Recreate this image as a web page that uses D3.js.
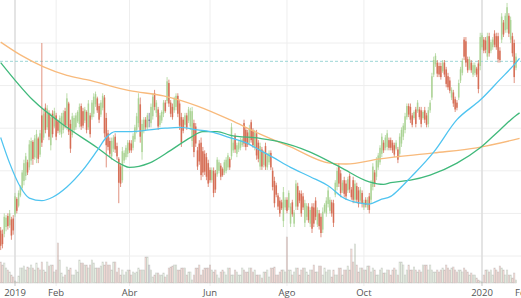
<!DOCTYPE html>
<html>
<head>
<meta charset="utf-8">
<script src="https://cdn.jsdelivr.net/npm/d3@7"></script>
<style>
  body { margin: 0; background: #fff; }
  svg { display: block; font-family: "Open Sans", sans-serif; }
</style>
</head>
<body>
<svg id="chart"></svg>
<script>
var width = 521, height = 298;

// daily OHLC, one entry per weekday starting 2018-12-20
var opens = [13.0,12.6,12.6,13.4,14.7,13.6,14.3,14.4,14.9,16.7,15.9,17.1,18.0,18.8,19.4,21.0,20.4,21.2,23.4,21.6,
  21.5,23.8,21.9,26.5,23.9,27.4,25.1,26.8,23.0,26.7,25.2,26.5,25.8,24.5,24.3,24.8,27.0,25.3,27.9,25.5,
  24.2,24.8,25.1,25.8,25.5,27.6,27.0,25.9,26.9,25.1,26.5,26.3,26.7,27.8,28.5,27.6,26.6,27.4,28.6,26.2,
  24.4,23.5,21.7,22.6,24.0,22.9,21.4,20.5,18.9,21.2,21.6,22.0,23.3,23.2,22.7,23.7,24.8,25.6,27.8,22.2,
  24.8,26.0,25.1,26.0,25.6,26.4,29.1,26.8,27.2,25.4,25.9,26.7,28.0,28.2,30.3,28.0,27.5,27.1,27.5,28.8,
  27.9,26.3,26.0,25.4,26.5,25.9,25.2,23.5,25.6,25.2,22.4,23.2,23.3,22.3,22.0,21.6,20.9,20.1,18.9,20.0,
  19.7,19.6,20.0,20.6,20.2,19.8,20.0,20.4,21.4,21.7,22.4,24.1,22.0,22.5,22.7,23.0,25.6,24.8,24.5,23.3,
  25.7,24.7,22.8,24.4,23.3,20.5,22.5,20.7,22.9,20.4,21.0,22.1,20.0,18.8,18.3,17.1,16.5,16.3,14.1,15.7,
  16.6,15.7,13.8,16.3,13.8,15.8,18.2,17.4,17.3,17.0,13.9,14.6,15.8,13.8,15.8,15.7,16.5,13.7,15.0,14.6,
  13.1,15.2,15.0,16.1,15.3,16.3,16.2,17.2,18.1,20.5,19.7,17.7,18.9,18.5,17.7,19.4,17.8,18.9,16.6,18.2,
  17.7,16.5,17.4,15.7,16.6,15.7,17.0,16.6,18.1,19.8,19.3,20.4,21.0,22.0,23.3,22.7,22.8,23.6,23.6,23.3,
  23.0,22.6,22.5,22.0,23.2,24.0,24.8,26.3,27.6,27.5,26.5,26.2,27.2,27.0,27.2,27.1,26.2,27.1,26.5,25.5,
  27.1,28.6,31.3,32.5,32.7,32.3,32.3,31.7,32.7,31.9,31.1,30.6,28.6,29.2,28.4,28.0,28.6,30.6,31.5,35.4,
  35.2,33.1,32.0,32.7,31.3,31.5,32.0,32.6,32.3,34.5,35.4,35.3,33.4,35.8,34.1,34.5,36.1,35.8,35.8,34.1,
  35.4,37.4,36.5,36.6,38.2,35.4,35.8,35.0,32.1];
var highs = [13.4,13.1,15.0,14.8,15.0,15.4,14.6,14.8,17.4,16.9,17.7,18.3,20.1,21.3,22.1,21.3,23.6,23.9,23.6,24.2,
  24.8,24.0,24.8,35.0,27.1,27.9,27.7,27.1,26.8,27.1,27.4,26.8,26.0,26.5,26.8,27.1,27.4,29.1,28.1,26.0,
  26.8,26.5,26.8,27.1,27.9,27.9,27.4,27.5,27.1,28.3,26.8,28.3,29.1,29.3,28.7,27.9,28.3,29.1,28.9,26.8,
  24.8,23.9,23.9,24.2,24.4,23.3,21.6,20.9,22.8,22.4,23.0,23.6,23.6,23.6,24.4,25.4,26.8,29.1,28.6,26.0,
  26.3,26.3,26.8,26.8,27.9,29.1,29.5,28.3,27.5,26.8,27.1,28.3,28.3,31.0,30.7,28.3,27.9,28.7,29.1,29.1,
  28.3,26.8,26.3,26.8,26.8,27.5,27.4,27.5,26.0,25.6,22.8,23.6,23.9,22.8,22.4,22.1,21.3,20.4,20.4,20.4,
  20.1,21.6,21.3,20.9,20.4,21.3,21.6,22.1,21.6,25.6,23.6,24.4,23.3,23.6,23.9,23.9,26.0,25.1,24.8,25.4,
  26.0,25.0,24.8,24.8,23.6,23.3,22.8,22.4,23.3,22.1,22.4,22.4,20.4,19.3,18.6,17.4,16.9,16.6,18.1,16.9,
  16.9,17.7,16.2,16.6,15.4,18.9,18.6,17.7,17.7,17.4,16.6,16.2,16.2,15.7,16.2,16.2,16.9,15.7,15.4,15.0,
  15.7,16.2,16.9,18.1,16.9,16.6,16.6,18.9,20.4,20.9,20.1,18.9,19.3,18.9,19.3,19.7,18.1,19.3,18.9,18.6,
  18.1,18.1,17.7,16.6,16.9,16.9,17.4,18.9,20.9,20.1,21.6,22.1,23.0,24.4,23.6,24.2,24.8,23.9,23.9,23.6,
  23.3,23.6,22.8,24.4,25.1,25.6,26.8,27.9,27.9,27.9,26.8,27.1,27.5,28.3,27.5,27.5,27.1,27.5,26.8,27.5,
  28.3,31.5,33.4,33.8,33.0,32.7,32.7,33.0,33.0,32.2,31.5,31.0,29.8,29.5,28.7,28.3,30.7,32.2,33.2,35.7,
  35.7,33.4,33.4,33.0,32.7,32.7,32.2,33.0,36.2,36.2,35.7,35.7,36.2,36.2,35.4,35.7,36.5,36.2,36.2,34.5,
  38.5,37.7,38.5,39.7,38.5,38.1,36.2,35.4,33.8];
var lows = [10.7,10.9,12.2,12.9,13.1,13.3,11.9,12.5,14.6,15.0,15.7,16.9,17.7,18.3,18.9,19.5,20.1,20.7,20.7,21.3,
  20.9,20.9,21.6,22.8,23.6,24.4,24.8,23.6,22.4,23.9,25.0,23.6,24.4,24.2,23.9,24.4,25.0,24.8,24.2,22.1,
  23.9,24.5,24.8,25.6,25.1,24.8,25.0,25.6,24.4,24.8,23.9,26.0,26.3,27.5,26.8,25.6,26.3,27.1,23.9,20.4,
  22.4,21.6,21.3,22.2,22.1,21.3,16.2,18.1,18.6,20.9,21.3,21.6,22.1,22.1,22.4,23.4,24.4,25.1,23.3,21.3,
  24.4,24.8,24.8,25.1,25.1,26.0,27.1,26.3,24.8,25.1,25.6,26.3,26.8,27.9,27.5,26.3,26.0,26.8,27.1,26.3,
  24.8,22.8,24.4,25.1,24.8,25.6,24.8,22.8,21.6,22.8,20.1,20.7,18.9,19.3,19.5,18.9,18.1,18.6,18.6,16.9,
  17.4,19.3,19.7,18.9,19.3,19.5,19.7,20.1,20.1,21.3,22.1,22.1,21.6,22.2,22.4,22.8,22.8,22.4,22.8,23.0,
  23.3,22.7,22.4,21.3,21.0,20.1,20.1,20.4,20.1,20.1,20.7,20.1,17.7,15.7,16.9,15.4,14.6,15.4,13.4,15.4,
  15.0,15.4,13.4,14.6,13.4,15.4,15.4,16.2,14.6,15.4,13.4,14.2,13.9,13.4,12.7,13.4,14.2,13.4,13.1,12.2,
  12.7,15.0,14.6,15.7,15.0,14.6,13.4,16.9,17.7,18.1,16.9,17.4,16.9,16.6,17.4,17.4,16.6,16.2,16.2,16.2,
  15.7,16.2,15.7,15.4,15.7,15.4,15.0,16.2,17.7,18.1,18.9,20.1,20.7,21.6,22.1,22.4,22.4,22.4,22.4,22.1,
  21.6,22.4,20.9,21.6,22.8,23.6,24.4,26.0,26.3,25.6,25.1,26.0,25.1,26.8,26.0,25.1,26.0,25.6,25.1,25.1,
  26.8,28.3,31.0,32.2,31.0,31.0,30.7,31.5,31.0,29.8,29.5,29.1,28.3,27.5,26.9,27.1,28.3,30.3,31.2,33.0,
  32.2,31.5,31.8,31.5,31.0,31.2,31.0,29.1,31.8,34.2,33.8,33.8,33.0,33.4,33.8,34.2,34.5,34.2,32.7,32.7,
  35.0,35.7,36.2,36.2,35.7,35.0,33.4,30.3,31.8];
var closes = [11.2,11.4,14.6,14.5,13.5,15.0,12.4,13.0,17.0,15.3,17.4,18.1,19.8,20.9,21.7,19.8,23.1,23.5,21.4,23.8,
  24.3,21.4,24.4,23.3,26.7,24.8,27.3,24.0,26.3,24.3,27.0,24.0,24.7,26.2,26.4,26.8,25.3,28.5,24.6,22.6,
  26.4,26.2,26.5,26.9,27.5,25.2,25.3,27.2,24.8,27.9,24.3,28.0,28.7,29.0,27.1,26.0,28.0,28.8,24.4,23.0,
  22.8,22.0,23.5,23.9,22.5,21.7,18.6,18.5,22.3,22.1,22.7,23.3,22.4,22.4,24.1,25.1,26.4,28.5,24.0,25.5,
  26.0,25.1,26.5,26.0,27.5,28.7,27.5,28.0,25.2,26.5,26.9,28.0,27.0,30.5,27.9,26.7,26.3,28.4,28.8,26.7,
  25.3,23.3,24.7,26.5,25.1,27.2,27.0,27.0,22.2,23.2,20.5,21.1,19.5,19.8,19.9,19.3,18.5,18.9,20.1,17.4,
  17.8,21.3,21.0,19.3,19.5,21.0,21.3,21.8,20.4,25.1,23.3,22.5,23.0,23.3,23.6,23.7,23.2,22.8,23.1,25.0,
  23.6,23.0,24.5,21.8,21.4,22.9,20.5,22.1,20.5,21.8,22.1,20.4,18.1,16.2,17.2,15.8,15.0,15.6,17.5,16.6,
  15.3,17.4,15.8,14.9,15.1,18.5,15.8,16.5,15.0,15.7,16.2,15.9,14.2,15.4,13.2,13.8,14.6,15.4,13.5,12.7,
  15.2,16.0,16.5,17.7,16.6,15.0,13.9,18.6,20.0,18.5,17.4,18.6,17.3,17.0,19.0,17.8,16.9,16.6,18.5,16.6,
  16.1,17.8,16.1,16.3,16.0,16.6,15.4,18.5,20.5,18.5,21.2,21.8,22.7,24.0,22.4,23.9,24.4,22.7,22.7,22.4,
  21.9,23.3,21.3,24.0,24.8,25.3,26.4,27.6,26.6,26.0,25.4,26.9,25.5,28.0,26.3,25.5,26.9,26.0,25.4,27.1,
  28.0,31.1,33.0,33.5,31.4,31.3,31.0,32.7,31.3,30.2,29.8,29.4,29.5,27.9,27.2,27.4,30.3,31.9,32.9,33.4,
  32.7,31.8,33.1,31.8,32.4,32.4,31.3,29.6,35.7,35.9,34.1,34.2,35.8,33.8,35.1,35.4,34.8,34.5,33.1,33.0,
  38.1,36.0,38.2,39.2,36.1,37.7,33.8,31.0,33.4];
// volume in millions
var volumes = [10.5,9,10,7.5,6.5,5.5,4,3,1,0.5, 3.5,7.5,7.5,8.5,6.5,8,7.5,9,7.5,6.5,
  10,7.5,6.5,10.5,6.5,5.5,10.5,8.5,9,9, 5.5,6.5,20,11.5,5,3,4,8,6.5,7.5,
  4,4,6.5,5.5,11.5,10,10,9,9,7.5, 9,11.5,10,7.5,7.5,7.5,8.5,10.5,9,10.5,
  9,9,6.5,10.5,10.5,5.5,7.5,4,6.5,4, 5.5,6.5,6.5,4,5.5,5,5.5,7.5,6.5,6.5,
  6.5,13,13,9,6.5,3,4,5,5,4, 4,5,3,4,7.5,8,8.5,9,9,6.5,
  6.5,7.5,7.5,7.5,4,5.5,5.5,1.5,4,7.5, 7.5,9,4,6.5,7.5,7.5,7.5,9,6.5,5.5,
  6.5,4,2.5,5.5,6.5,5.5,4,7.5,7.5,4, 4,6.5,5.5,4,4,7.5,6.5,5.5,5.5,7.5,
  7.5,5.5,6.5,4,4,4,2.5,5.5,5.5,6.5, 3,7.5,7.5,8,4,4,5.5,6.5,6.5,5.5,
  23,6.5,6.5,4,5.5,7.5,7.5,4,6.5,7.5, 7.5,5.5,4,6.5,6.5,9,5.5,5.5,8.5,8.5,
  4,7.5,5.5,6.5,6.5,3,6.5,4,4,7.5, 7.5,4,6.5,6.5,8.5,6.5,17,10.5,19.5,9,
  5.5,7.5,7.5,6.5,6.5,8.5,8.5,5.5,7.5,6.5, 4,4,6.5,7.5,5,5,6.5,6.5,4,6.5,
  7.5,6.5,4,10.5,10.5,9,4,6.5,9,6.5, 6.5,8,6.5,5.5,6.5,5.5,9,9,9,6.5,
  9,6.5,5.5,5.5,6.5,5.5,6.5,7.5,6.5,9, 7.5,6.5,7.5,8,6.5,5.5,6.5,6.5,5.5,7.5,
  6.5,5.5,4,5,4,4,2.5,1.5,1,0.5, 4,6.5,6.5,5.5,6.5,4,7.5,6.5,5.5,8.5,
  7.5,6.5,4,6.5,4,4,2.5,5,1.5];

// moving averages, sampled as [day index, value]
var ma20 = [[0,23.9],[5,20.9],[11,18.1],[16,16.8],[23,16.5],[29,16.9],[37,18.1],[46,20.1],[54,22.4],[59,23.9],
  [64,24.6],[72,24.6],[83,24.8],[92,25.0],[100,25.1],[110,24.8],[117,24.6],[128,23.9],[137,23.3],[145,22.4],
  [152,21.6],[162,20.4],[173,19.3],[184,18.1],[191,16.9],[201,16.2],[206,16.1],[212,16.6],[218,17.0],[223,17.9],
  [229,19.2],[242,22.2],[255,26.0],[268,28.3],[279,30.7],[288,32.7],[290,33.2]];
var ma50 = [[0,32.7],[18,28.3],[37,25.1],[54,22.7],[63,21.3],[68,20.7],[72,20.4],[83,20.9],[95,22.4],[106,23.9],
  [113,24.6],[121,24.6],[128,24.2],[145,23.8],[156,23.4],[173,22.2],[190,20.4],[206,18.7],[214,18.4],[218,18.6],
  [229,18.9],[240,19.5],[255,20.9],[268,22.7],[279,24.8],[288,26.5],[290,26.8]];
var ma200 = [[0,35.1],[11,33.6],[24,32.2],[37,31.2],[48,30.7],[72,29.4],[91,28.8],[110,27.6],[128,26.0],[145,24.3],
  [162,22.8],[184,20.9],[193,20.8],[212,21.4],[242,22.1],[266,22.7],[290,23.8]];

var refPrice = 32.85;
var priceGrid = [10, 15, 20, 25, 30, 35];
var tickDates = ["2019-01-01", "2019-02-01", "2019-04-01", "2019-06-01", "2019-08-01", "2019-10-01", "2020-01-01", "2020-02-01"];
var tickLabels = ["2019", "Feb", "Abr", "Jun", "Ago", "Oct", "2020", "Feb"];

var upColor = "#a3cf8b", downColor = "#d4664c", flatColor = "#5b5e7a";
var svg = d3.select("#chart").attr("width", width).attr("height", height);

// weekday calendar
var parse = d3.timeParse("%Y-%m-%d");
var days = d3.timeDay.range(parse("2018-12-20"), parse("2020-02-15"))
  .filter(function (d) { return d.getDay() % 6 !== 0; });
function dayIndex(s) { return d3.bisectLeft(days, parse(s)); }

var x = d3.scaleLinear()
  .domain([dayIndex("2019-01-01"), dayIndex("2020-01-01")])
  .range([15, 482]);
var y = d3.scaleLinear().domain([10, 35]).range([256, 43]);
var vy = d3.scaleLinear().domain([0, 25]).range([283, 233]);

var candles = opens.map(function (o, i) {
  return {i: i, o: o, h: highs[i], l: lows[i], c: closes[i], v: volumes[i]};
});
function colorOf(d) {
  return d.c > d.o ? upColor : (d.c < d.o ? downColor : flatColor);
}

// grid
svg.append("g")
  .selectAll("line")
  .data(priceGrid)
  .enter().append("line")
  .attr("x1", 0).attr("x2", width)
  .attr("y1", function (d) { return y(d); })
  .attr("y2", function (d) { return y(d); })
  .attr("stroke", "#eeeeee")
  .attr("stroke-width", 1);

var ticks = tickDates.map(function (s, k) {
  return {i: dayIndex(s), label: tickLabels[k], year: s.slice(5) === "01-01"};
});

svg.append("g")
  .selectAll("line")
  .data(ticks)
  .enter().append("line")
  .attr("x1", function (d) { return x(d.i); })
  .attr("x2", function (d) { return x(d.i); })
  .attr("y1", 0).attr("y2", 286)
  .attr("stroke", function (d) { return d.year ? "#dedede" : "#eeeeee"; })
  .attr("stroke-width", function (d) { return d.year ? 1.6 : 1; });

svg.append("line")
  .attr("x1", 0).attr("x2", width)
  .attr("y1", y(refPrice)).attr("y2", y(refPrice))
  .attr("stroke", "#9ed6d6")
  .attr("stroke-width", 1)
  .attr("stroke-dasharray", "3,2");

// volume
svg.append("g")
  .selectAll("rect")
  .data(candles)
  .enter().append("rect")
  .attr("x", function (d) { return x(d.i) - 0.7; })
  .attr("width", 1.4)
  .attr("y", function (d) { return vy(d.v); })
  .attr("height", function (d) { return vy(0) - vy(d.v); })
  .attr("fill", colorOf)
  .attr("fill-opacity", 0.22)
  .attr("stroke", "#8a8a8a")
  .attr("stroke-opacity", 0.35)
  .attr("stroke-width", 0.6);

// candles
var cg = svg.append("g");
cg.selectAll("line")
  .data(candles)
  .enter().append("line")
  .attr("x1", function (d) { return x(d.i); })
  .attr("x2", function (d) { return x(d.i); })
  .attr("y1", function (d) { return y(d.h); })
  .attr("y2", function (d) { return y(d.l); })
  .attr("stroke", colorOf)
  .attr("stroke-opacity", 0.9)
  .attr("stroke-width", 0.8);
cg.selectAll("rect")
  .data(candles)
  .enter().append("rect")
  .attr("x", function (d) { return x(d.i) - 0.8; })
  .attr("width", 1.6)
  .attr("y", function (d) { return y(Math.max(d.o, d.c)); })
  .attr("height", function (d) { return Math.max(1, Math.abs(y(d.o) - y(d.c))); })
  .attr("fill", colorOf)
  .attr("fill-opacity", function (d) { return d.c > d.o ? 0.75 : 0.85; });

// moving averages
var line = d3.line()
  .x(function (d) { return x(d[0]); })
  .y(function (d) { return y(d[1]); })
  .curve(d3.curveMonotoneX);
[[ma200, "#f8ba7c"], [ma50, "#40b97b"], [ma20, "#4fc4f0"]].forEach(function (m) {
  svg.append("path")
    .datum(m[0])
    .attr("d", line)
    .attr("fill", "none")
    .attr("stroke", m[1])
    .attr("stroke-width", 1.3);
});

// axis labels
svg.append("g")
  .selectAll("text")
  .data(ticks)
  .enter().append("text")
  .attr("x", function (d) { return x(d.i); })
  .attr("y", 296)
  .attr("text-anchor", "middle")
  .attr("font-size", 9.5)
  .attr("fill", "#555")
  .text(function (d) { return d.label; });
</script>
</body>
</html>
